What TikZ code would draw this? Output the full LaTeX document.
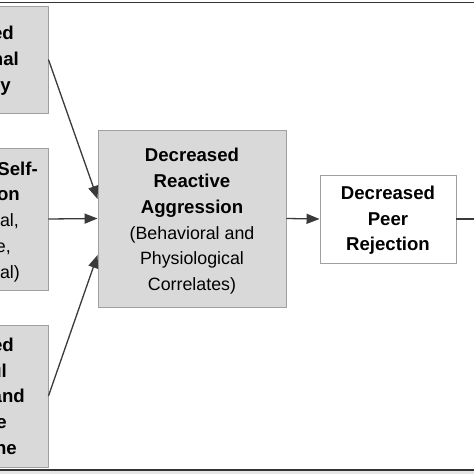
\documentclass[tikz,border=0pt]{standalone}
\usepackage{fontspec}
\setmainfont{Liberation Sans}
\usetikzlibrary{arrows.meta}
\definecolor{boxfill}{HTML}{D9D9D9}
\definecolor{boxline}{HTML}{A0A0A0}
\definecolor{arrcol}{HTML}{3A3A3A}
\newcommand{\bfs}{\fontsize{18.6}{25.8}\selectfont\bfseries}
\newcommand{\rgs}{\fontsize{17.8}{25.8}\selectfont\mdseries}
\tikzset{
  graybox/.style={draw=boxline, line width=0.9pt, fill=boxfill, inner sep=0pt, align=center, font=\fontsize{18.6}{25.8}\selectfont},
  whitebox/.style={draw=boxline, line width=0.9pt, fill=white, inner sep=0pt, align=center, font=\fontsize{18.6}{25.8}\selectfont},
  arr/.style={draw=arrcol, line width=1.3pt, -{Triangle[length=13pt,width=10pt]}},
  plain/.style={draw=arrcol, line width=1.3pt},
  frag/.style={anchor=base east, inner sep=0pt, text=black},
  rule/.style={draw=black!80, line width=1.6pt}
}
\begin{document}
\begin{tikzpicture}[x=1pt,y=-1pt]
\useasboundingbox (0,0) rectangle (474,474);
\clip (0,0) rectangle (474,474);
\fill[white] (0,0) rectangle (474,474);
\fill[black!10] (0,471) rectangle (474,474);
% frame lines
\coordinate (ta) at (0,2.5);
\coordinate (tb) at (474,2.5);
\coordinate (ba) at (0,470);
\coordinate (bb) at (474,470);
\draw[rule] (ta) -- (tb);
\draw[rule] (ba) -- (bb);
% left boxes (cut off by the left edge)
\node[graybox, minimum width=108pt, minimum height=107pt] (tl) at (-6,59.5) {};
\node[graybox, minimum width=108pt, minimum height=142pt] (ml) at (-6,219) {};
\node[graybox, minimum width=108pt, minimum height=142pt] (bl) at (-6,396) {};
% visible fragments of left texts
\node[frag] (tl1) at (14,39.5) {\bfs ed};
\node[frag] (tl2) at (19,65.3) {\bfs nal};
\node[frag] (tl3) at (11,91.1) {\bfs y};
\node[frag] (ml1) at (38,175) {\bfs Self-};
\node[frag] (ml2) at (20,200.8) {\bfs on};
\node[frag] (ml3) at (19,226.6) {\rgs al,};
\node[frag] (ml4) at (11,252.4) {\rgs e,};
\node[frag] (ml5) at (20,278.2) {\rgs al)};
\node[frag] (bl1) at (14,351) {\bfs ed};
\node[frag] (bl2) at (7,377) {\bfs ul};
\node[frag] (bl3) at (25,402.5) {\bfs and};
\node[frag] (bl4) at (7,428) {\bfs e};
\node[frag] (bl5) at (17,454) {\bfs ne};
% middle box
\node[graybox, minimum width=188pt, minimum height=177pt] (mid) at (192,218.5)
  {\rule{0pt}{19pt}\bfseries Decreased\\\bfseries Reactive\\\bfseries Aggression\\\rgs (Behavioral and\\\rgs Physiological\\\rgs Correlates)};
% peer box
\node[whitebox, minimum width=136pt, minimum height=88pt] (peer) at (388,219)
  {\rule{0pt}{16pt}\bfseries Decreased\\\bfseries Peer\\\bfseries Rejection};
% connectors
\coordinate (t1) at ([yshift=19.5pt]mid.west);
\coordinate (t3) at ([yshift=-36.5pt]mid.west);
\coordinate (rend) at (480,219);
\draw[arr] (tl.east) -- (t1);
\draw[arr] (ml.east) -- (mid.west);
\draw[arr] (bl.east) -- (t3);
\draw[arr] (mid.east) -- (peer.west);
\draw[plain] (peer.east) -- (rend);
\end{tikzpicture}
\end{document}
